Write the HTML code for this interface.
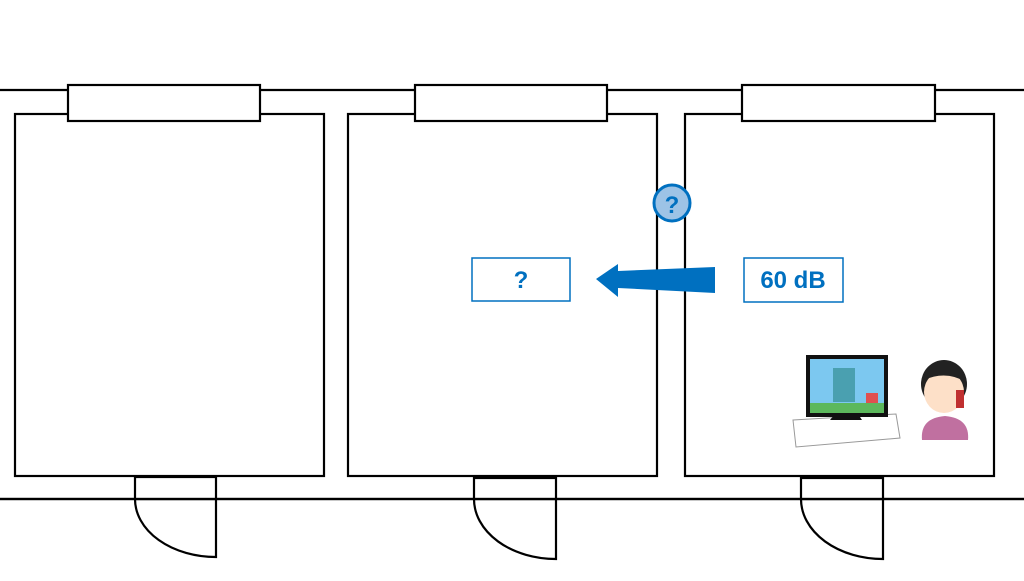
<!DOCTYPE html>
<html><head><style>
body{margin:0;background:#fff;width:1024px;height:576px;overflow:hidden}
.lb{font-family:"Liberation Sans",sans-serif;font-weight:bold;fill:#0070C0;font-size:24px}
</style></head><body>
<svg width="1024" height="576" viewBox="0 0 1024 576" xmlns="http://www.w3.org/2000/svg">
<g fill="none" stroke="#000" stroke-width="2.2">
<line x1="0" y1="90" x2="1024" y2="90"/>
<line x1="0" y1="499" x2="1024" y2="499"/>
<rect x="15" y="114" width="309" height="362" fill="#fff"/>
<rect x="348" y="114" width="309" height="362" fill="#fff"/>
<rect x="685" y="114" width="309" height="362" fill="#fff"/>
<rect x="68" y="85" width="192" height="36" fill="#fff"/>
<rect x="415" y="85" width="192" height="36" fill="#fff"/>
<rect x="742" y="85" width="193" height="36" fill="#fff"/>
<rect x="135" y="477" width="81" height="22" fill="#fff"/>
<rect x="474" y="478" width="82" height="21" fill="#fff"/>
<rect x="801" y="478" width="82" height="21" fill="#fff"/>
<line x1="0" y1="499" x2="1024" y2="499"/>
<path d="M135 499 A81 58 0 0 0 216 557 L216 499"/>
<path d="M474 499 A82 60 0 0 0 556 559 L556 499"/>
<path d="M801 499 A82 60 0 0 0 883 559 L883 499"/>
</g>
<circle cx="672" cy="203" r="18" fill="#9DC3E6" stroke="#0070C0" stroke-width="3"/>
<text x="672" y="213" text-anchor="middle" class="lb" font-size="26">?</text>
<polygon points="715,267 715,293 618,288 618,297 596,279 618,264 618,271" fill="#0070C0"/>
<rect x="472" y="258" width="98" height="43" fill="#fff" stroke="#0070C0" stroke-width="1.5"/>
<text x="521" y="288" text-anchor="middle" class="lb">?</text>
<rect x="744" y="258" width="99" height="44" fill="#fff" stroke="#0070C0" stroke-width="1.5"/>
<text x="793" y="288" text-anchor="middle" class="lb">60 dB</text>
<polygon points="793,420 896,414 900,438 796,447" fill="#fff" stroke="#999" stroke-width="1"/>
<rect x="806" y="355" width="82" height="62" fill="#111"/>
<rect x="810" y="359" width="74" height="54" fill="#7cc8f0"/>
<rect x="810" y="403" width="74" height="10" fill="#5cb85c"/>
<rect x="833" y="368" width="22" height="34" fill="#4aa0b0"/>
<rect x="866" y="393" width="12" height="10" fill="#e05050"/>
<polygon points="830,420 862,420 858,414 835,414" fill="#111"/>
<path d="M922 440 Q920 418 945 416 Q970 418 968 440 Z" fill="#c070a0"/>
<ellipse cx="944" cy="384" rx="23" ry="24" fill="#222"/>
<ellipse cx="944" cy="392" rx="20" ry="21" fill="#fde0c8"/>
<path d="M924 380 Q944 360 966 382 Q946 370 924 380Z" fill="#222"/>
<rect x="956" y="390" width="8" height="18" fill="#c03030"/>
</svg>
</body></html>
